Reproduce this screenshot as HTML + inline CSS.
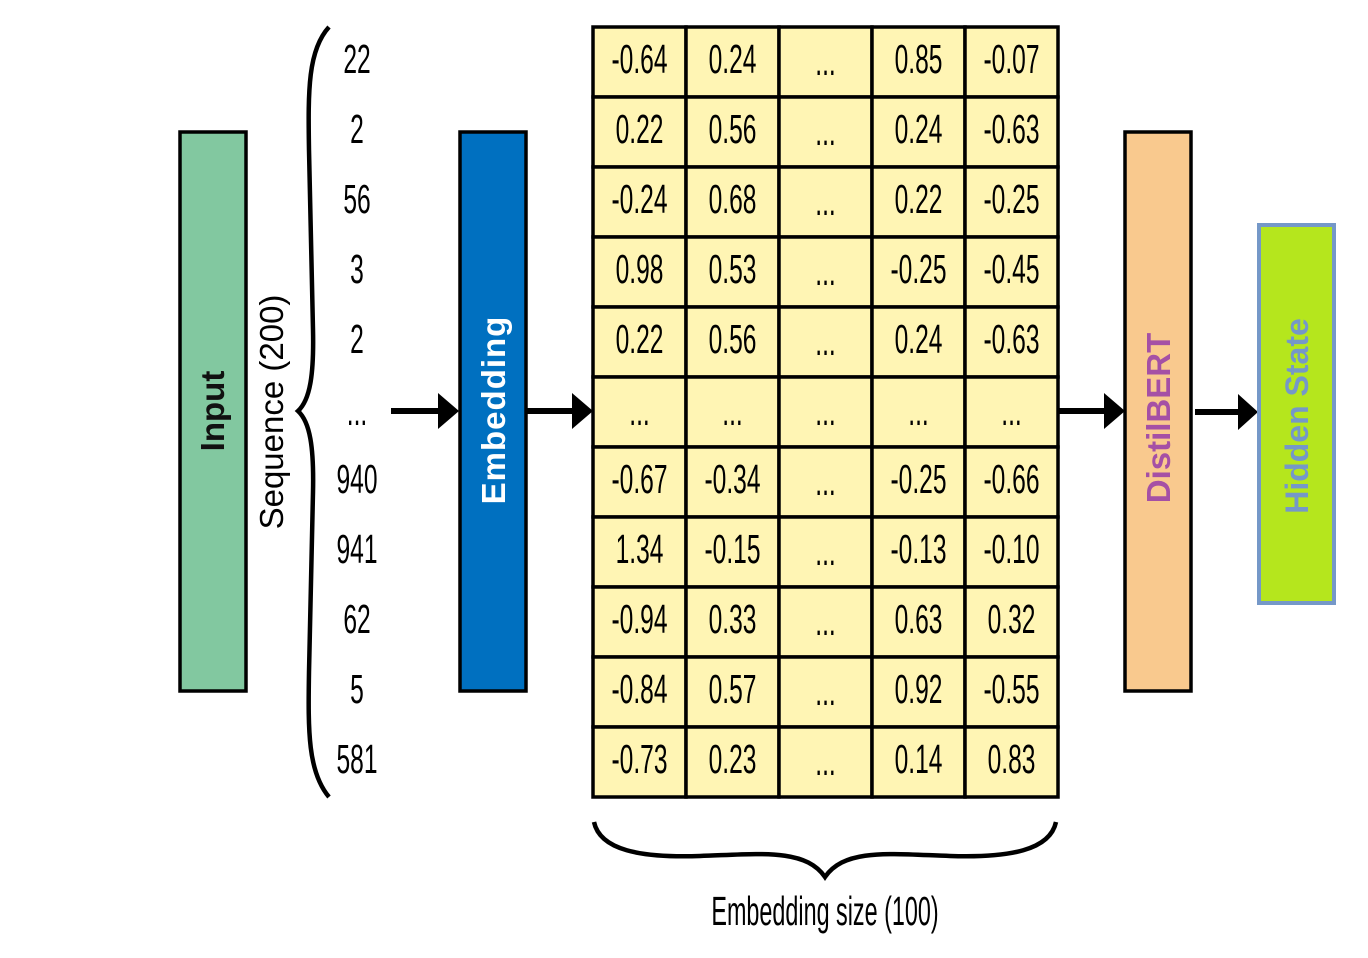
<!DOCTYPE html>
<html>
<head>
<meta charset="utf-8">
<style>
html,body{margin:0;padding:0;background:#fff;}
svg{display:block;font-family:"Liberation Sans",sans-serif;}
</style>
</head>
<body>
<svg id="fig" width="1368" height="958" viewBox="0 0 1368 958" xmlns="http://www.w3.org/2000/svg">
  <rect x="0" y="0" width="1368" height="958" fill="#fff"/>
  <g>
    <rect x="180" y="132" width="66" height="559" fill="#82c8a0" stroke="#000" stroke-width="3.5"/>
    <text transform="translate(224,411) rotate(-90)" text-anchor="middle" font-size="33" font-weight="bold" fill="#111">Input</text>
  </g>
  <text transform="translate(283,412) rotate(-90)" text-anchor="middle" font-size="33" fill="#000">Sequence (200)</text>
  <path d="M329,27 C308,50 308,90 309,150 L313,330 C314,375 310,400 298,411 C310,422 314,447 313,492 L309,672 C308,732 308,772 329,797" fill="none" stroke="#000" stroke-width="4.5"/>
  <g id="seq"></g>

  <g>
    <rect x="460" y="132" width="66" height="559" fill="#0070c0" stroke="#000" stroke-width="3.5"/>
    <text transform="translate(505,410) rotate(-90)" text-anchor="middle" font-size="33" font-weight="bold" fill="#fff" letter-spacing="1">Embedding</text>
  </g>

  <g id="grid"></g>

  <g fill="#000" stroke="#000">
    <g><line x1="391" y1="411" x2="440" y2="411" stroke-width="6"/><polygon points="438,393 459,411 438,429" stroke="none"/></g>
    <g><line x1="527" y1="411" x2="574" y2="411" stroke-width="6"/><polygon points="572,393 593,411 572,429" stroke="none"/></g>
    <g><line x1="1058" y1="411" x2="1106" y2="411" stroke-width="6"/><polygon points="1104,393 1125,411 1104,429" stroke="none"/></g>
    <g><line x1="1195" y1="412" x2="1240" y2="412" stroke-width="6"/><polygon points="1238,394 1258,412 1238,430" stroke="none"/></g>
  </g>

  <g>
    <rect x="1125" y="132" width="66" height="559" fill="#f9c98e" stroke="#000" stroke-width="3.5"/>
    <text transform="translate(1170,418) rotate(-90)" text-anchor="middle" font-size="33" font-weight="bold" fill="#a550a5">DistilBERT</text>
  </g>
  <g>
    <rect x="1259" y="225" width="75" height="378" fill="#b5e61d" stroke="#7598c8" stroke-width="4"/>
    <text transform="translate(1308,416) rotate(-90)" text-anchor="middle" font-size="32" font-weight="bold" fill="#7598c8">Hidden State</text>
  </g>

  <path d="M594,822 C600,850 640,858 700,856 C760,854 805,848 825,877 C845,848 890,854 950,856 C1010,858 1050,850 1056,822" fill="none" stroke="#000" stroke-width="4.5"/>
  <text transform="translate(825,925) scale(0.57,1)" text-anchor="middle" font-size="41" fill="#000">Embedding size (100)</text>
</svg>
<script>
const seqValues = ["22","2","56","3","2","...","940","941","62","5","581"];
const matrixRows = [
  ["-0.64","0.24","...","0.85","-0.07"],
  ["0.22","0.56","...","0.24","-0.63"],
  ["-0.24","0.68","...","0.22","-0.25"],
  ["0.98","0.53","...","-0.25","-0.45"],
  ["0.22","0.56","...","0.24","-0.63"],
  ["...","...","...","...","..."],
  ["-0.67","-0.34","...","-0.25","-0.66"],
  ["1.34","-0.15","...","-0.13","-0.10"],
  ["-0.94","0.33","...","0.63","0.32"],
  ["-0.84","0.57","...","0.92","-0.55"],
  ["-0.73","0.23","...","0.14","0.83"]
];
const NS = "http://www.w3.org/2000/svg";
const gx0 = 593, gx1 = 1058, gy0 = 27, gy1 = 797;
const nCols = matrixRows[0].length, nRows = matrixRows.length;
const cw = (gx1 - gx0) / nCols, rh = (gy1 - gy0) / nRows;
const colX = c => gx0 + c * cw;
const rowY = r => gy0 + r * rh;
const grid = document.getElementById('grid');
const seq = document.getElementById('seq');
function mkText(val, cx, cy, parent) {
  const t = document.createElementNS(NS, 'text');
  t.setAttribute('transform', `translate(${cx},${cy}) scale(0.6,1)`);
  t.setAttribute('text-anchor', 'middle');
  t.setAttribute('font-size', '41');
  t.setAttribute('fill', '#000');
  t.textContent = val;
  parent.appendChild(t);
  return t;
}
matrixRows.forEach((row, r) => {
  row.forEach((val, c) => {
    const rect = document.createElementNS(NS, 'rect');
    rect.setAttribute('x', colX(c)); rect.setAttribute('y', rowY(r));
    rect.setAttribute('width', cw); rect.setAttribute('height', rh);
    rect.setAttribute('fill', '#fff5b4'); rect.setAttribute('stroke', '#000'); rect.setAttribute('stroke-width', '3.5');
    
    
    grid.appendChild(rect);
    const t = mkText(val, colX(c) + cw / 2, rowY(r) + rh / 2 + (val === '...' ? 13 : 11), grid);
    
    
  });
});
seqValues.forEach((val, r) => {
  const t = mkText(val, 357, rowY(r) + rh / 2 + (val === '...' ? 13 : 11), seq);
  
  
});
</script>
</body>
</html>
